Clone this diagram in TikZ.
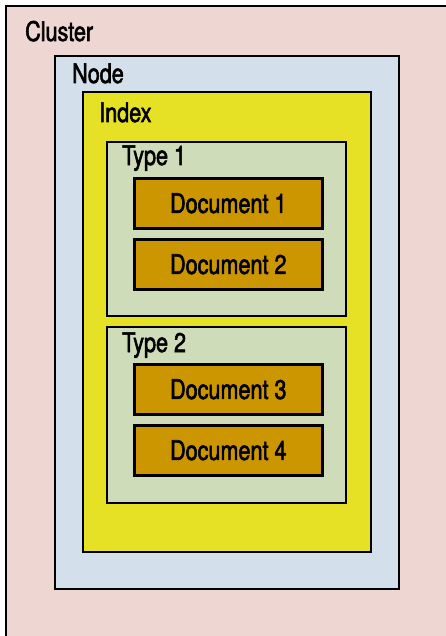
\documentclass[tikz,border=0pt]{standalone}
\usepackage{fontspec}
\setmainfont{TeX Gyre Heros}[FakeStretch=0.8,FakeBold=2]
\definecolor{clusterc}{HTML}{EED6D2}
\definecolor{nodec}{HTML}{D3DFEA}
\definecolor{indexc}{HTML}{E6E124}
\definecolor{typec}{HTML}{CFDCBA}
\definecolor{docc}{HTML}{CB9600}
\begin{document}
\begin{tikzpicture}[x=1pt,y=-1pt,
  box/.style={draw=black,line width=2.6pt},
  lbl/.style={anchor=base west,inner sep=0pt,font=\fontsize{27}{30}\selectfont},
  docbox/.style={box,fill=docc,minimum width=188pt,minimum height=50pt,inner sep=0pt,anchor=north west,font=\fontsize{27}{30}\selectfont}]
\useasboundingbox (0,0) rectangle (445,636);
\path[box,fill=clusterc] (6,6) coordinate (clA) rectangle (470,670) coordinate (clB);
\path[box,fill=nodec] (55,56) coordinate (ndA) rectangle (399,589) coordinate (ndB);
\path[box,fill=indexc] (83,92) coordinate (ixA) rectangle (371,552) coordinate (ixB);
\path[box,fill=typec] (107,142) coordinate (t1A) rectangle (346,316) coordinate (t1B);
\path[box,fill=typec] (107,327) coordinate (t2A) rectangle (346,503) coordinate (t2B);
\node[lbl] (lcluster) at (25,41) {Cluster};
\node[lbl] (lnode) at (72,83) {Node};
\node[lbl] (lindex) at (99,122) {Index};
\node[lbl] (ltype1) at (122,165) {Type 1};
\node[lbl] (ltype2) at (122,352) {Type 2};
\node[docbox] (d1) at (133,177) {Document 1};
\node[docbox] (d2) at (133,238) {Document 2};
\node[docbox] (d3) at (133,363) {Document 3};
\node[docbox] (d4) at (133,424) {Document 4};
\end{tikzpicture}
\end{document}
